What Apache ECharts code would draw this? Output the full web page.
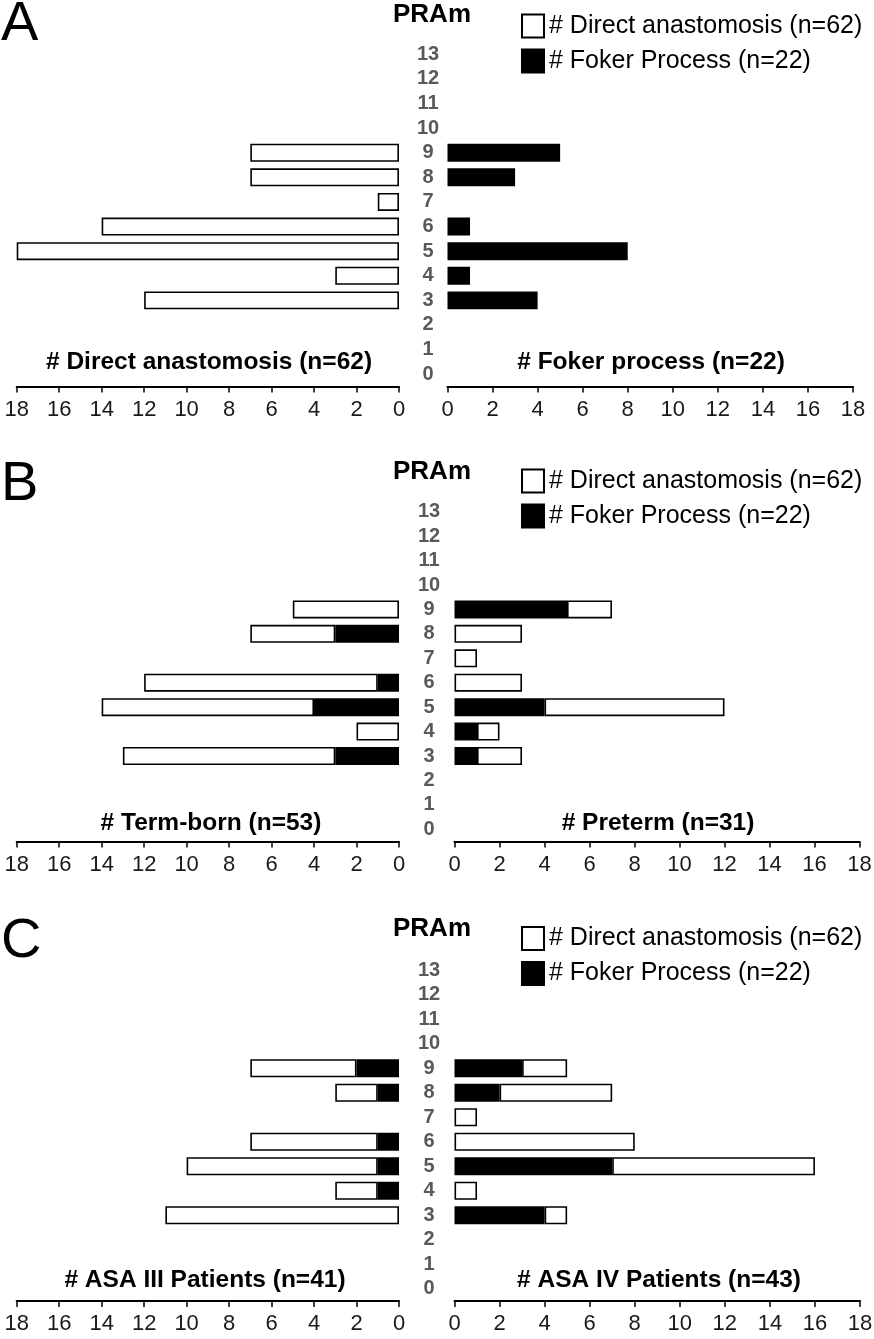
<!DOCTYPE html>
<html><head><meta charset="utf-8">
<script src="https://cdn.jsdelivr.net/npm/echarts@6.0.0/dist/echarts.min.js"></script>
<style>html,body{margin:0;padding:0;background:#fff;}#chart{width:874px;height:1339px;}</style>
</head><body><div id="chart"></div>
<script>
// ---------- data ----------
const categories = ['0','1','2','3','4','5','6','7','8','9','10','11','12','13'];
const axisMin = 0, axisMax = 18, axisStep = 2;
const legendNames = ['# Direct anastomosis (n=62)', '# Foker Process (n=22)'];
const panelLetters = ['A', 'B', 'C'];
const axisNameLabel = 'PRAm';
const sideTitles = [
  ['# Direct anastomosis (n=62)', '# Foker process (n=22)'],
  ['# Term-born (n=53)', '# Preterm (n=31)'],
  ['# ASA III Patients (n=41)', '# ASA IV Patients (n=43)']
];
// Panel A
const directAll   = [0,0,0,12,3,18,14,1,7,7,0,0,0,0];
const fokerAll    = [0,0,0,4,1,8,1,0,3,5,0,0,0,0];
// Panel B
const termDirect    = [0,0,0,10,2,10,11,0,4,5,0,0,0,0];
const termFoker     = [0,0,0,3,0,4,1,0,3,0,0,0,0,0];
const pretermDirect = [0,0,0,2,1,8,3,1,3,2,0,0,0,0];
const pretermFoker  = [0,0,0,1,1,4,0,0,0,5,0,0,0,0];
// Panel C
const asa3Direct = [0,0,0,11,2,9,6,0,2,5,0,0,0,0];
const asa3Foker  = [0,0,0,0,1,1,1,0,1,2,0,0,0,0];
const asa4Direct = [0,0,0,1,1,9,8,1,5,2,0,0,0,0];
const asa4Foker  = [0,0,0,4,0,7,0,0,2,3,0,0,0,0];

// ---------- layout ----------
const FONT = "'Liberation Sans', Arial, sans-serif";
const panels = [
  { top: 42,    height: 344.5, rLeft: 447.5, rWidth: 405.5, labelMargin: 29, titleY: 362,  pramY: 14.5, letterY: 25,  legendTop: 13.5, titleX: [209, 651] },
  { top: 499.5, height: 342,   rLeft: 454.5, rWidth: 405,   labelMargin: 30, titleY: 823,  pramY: 472,  letterY: 485, legendTop: 468.5, titleX: [211, 658] },
  { top: 958,   height: 343,   rLeft: 454.5, rWidth: 405.5, labelMargin: 30, titleY: 1280, pramY: 929,  letterY: 942, legendTop: 926, titleX: [205, 659] }
];
const LEFT_X = 16.7, LEFT_W = 382.3;

const grids = [], xAxes = [], yAxes = [], legends = [], graphics = [];
panels.forEach((p, i) => {
  grids.push({ left: LEFT_X, width: LEFT_W, top: p.top, height: p.height, containLabel: false, outerBoundsMode: 'none' });
  grids.push({ left: p.rLeft, width: p.rWidth, top: p.top, height: p.height, containLabel: false, outerBoundsMode: 'none' });
  [0, 1].forEach(side => {
    const gi = i * 2 + side;
    xAxes.push({
      type: 'value', gridIndex: gi, min: axisMin, max: axisMax, interval: axisStep,
      inverse: side === 0, position: 'bottom',
      axisLine: { show: true, lineStyle: { color: '#000', width: 2 } },
      axisTick: { show: true, length: 6, lineStyle: { color: '#000', width: 1.5 } },
      axisLabel: { fontSize: 22, color: '#1a1a1a', margin: 12, fontFamily: FONT },
      splitLine: { show: false }
    });
    yAxes.push({
      type: 'category', gridIndex: gi, data: categories,
      position: side === 0 ? 'right' : 'left',
      axisLine: { show: false }, axisTick: { show: false }, splitLine: { show: false },
      axisLabel: side === 0 ? {
        show: true, interval: 0, align: 'center', margin: p.labelMargin,
        fontSize: 20, fontWeight: 'bold', color: '#595959', fontFamily: FONT
      } : { show: false }
    });
    graphics.push({
      type: 'text', x: p.titleX[side], y: p.titleY, silent: true,
      style: { text: sideTitles[i][side], font: "bold 24.5px " + FONT, fill: '#000',
               textAlign: 'center', textVerticalAlign: 'middle', verticalAlign: 'middle' }
    });
  });
  legends.push({
    data: legendNames, orient: 'vertical', left: 521, top: p.legendTop, padding: 0,
    itemWidth: 22, itemHeight: 23, itemGap: 10, icon: 'rect', selectedMode: false,
    textStyle: { fontSize: 25, fontFamily: FONT, color: '#000' }
  });
  graphics.push({
    type: 'text', x: 432, y: p.pramY, silent: true,
    style: { text: axisNameLabel, font: "bold 26px " + FONT, fill: '#000',
             textAlign: 'center', textVerticalAlign: 'middle', verticalAlign: 'middle' }
  });
  graphics.push({
    type: 'text', x: 1, y: p.letterY, silent: true,
    style: { text: panelLetters[i], font: "56px " + FONT, fill: '#000',
             textAlign: 'left', textVerticalAlign: 'middle', verticalAlign: 'middle' }
  });
});

function bar(name, values, gi, stack, color) {
  return {
    type: 'bar', name: name, xAxisIndex: gi, yAxisIndex: gi, stack: stack,
    data: values.map(v => (v ? v : '-')),
    barWidth: 18,
    itemStyle: { color: color, borderColor: '#000', borderWidth: 1.6 },
    emphasis: { disabled: true }
  };
}
const WHITE = '#ffffff', BLACK = '#000000';
const series = [
  bar(legendNames[0], directAll, 0, 'a0', WHITE),
  bar(legendNames[1], fokerAll, 1, 'a1', BLACK),
  bar(legendNames[1], termFoker, 2, 'b0', BLACK),
  bar(legendNames[0], termDirect, 2, 'b0', WHITE),
  bar(legendNames[1], pretermFoker, 3, 'b1', BLACK),
  bar(legendNames[0], pretermDirect, 3, 'b1', WHITE),
  bar(legendNames[1], asa3Foker, 4, 'c0', BLACK),
  bar(legendNames[0], asa3Direct, 4, 'c0', WHITE),
  bar(legendNames[1], asa4Foker, 5, 'c1', BLACK),
  bar(legendNames[0], asa4Direct, 5, 'c1', WHITE)
];

const chart = echarts.init(document.getElementById('chart'), null, { renderer: 'canvas' });
chart.setOption({
  animation: false,
  backgroundColor: '#fff',
  textStyle: { fontFamily: FONT },
  grid: grids, xAxis: xAxes, yAxis: yAxes, legend: legends,
  series: series, graphic: graphics
});
</script></body></html>
